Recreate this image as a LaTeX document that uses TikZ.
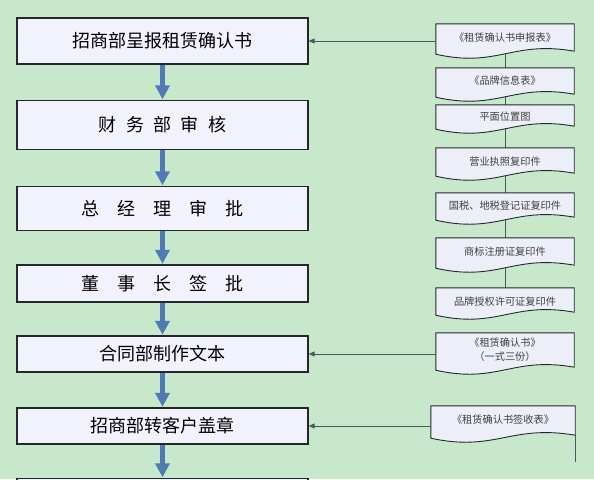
\documentclass[tikz,border=0pt]{standalone}
\usepackage{fontspec}
\setmainfont{Noto Sans CJK SC}
\usetikzlibrary{arrows.meta}
\definecolor{bggreen}{RGB}{200,232,204}
\definecolor{boxfill}{RGB}{242,242,252}
\definecolor{docfill}{RGB}{236,239,248}
\definecolor{edge}{RGB}{36,40,44}
\definecolor{conn}{RGB}{70,92,92}
\definecolor{flowblue}{RGB}{79,122,180}
\definecolor{doctext}{RGB}{64,64,64}
\newcommand\docoutline[1]{%
  \filldraw[docline] (#1.south west) -- (#1.north west) -- (#1.north east) -- ([yshift=3pt]#1.south east)
    .. controls +(-0.45*\pgfkeysvalueof{/tikz/docw},11) and +(0.45*\pgfkeysvalueof{/tikz/docw},-14) .. (#1.south west) -- cycle;}
\tikzset{
  docw/.initial=138,
  stepbox/.style={draw=edge, line width=1.2pt, fill=boxfill, minimum width=291pt, inner sep=0pt, font=\fontsize{18pt}{20pt}\selectfont},
  docnode/.style={draw=none, inner sep=0pt, minimum width=138pt, text=doctext, font=\fontsize{10.2pt}{13.5pt}\selectfont, align=center},
  docline/.style={draw=edge, line width=0.9pt, fill=docfill},
  connline/.style={draw=conn, line width=0.8pt},
  connarrow/.style={connline, -{Triangle[width=5pt,length=6pt]}},
  flowarrow/.style={draw=flowblue, line width=5pt, -{Triangle[width=14pt,length=14pt]}, shorten >=0.6pt},
}
\newcommand\gapsp[1]{\hspace{#1}}
\begin{document}
\begin{tikzpicture}[x=1pt,y=1pt]
\useasboundingbox (0,0) rectangle (594,-479);
\fill[bggreen] (0,0) rectangle (594,-479);

% document nodes (positions only, outlines drawn below)
\node[docnode, minimum height=30pt] (d1) at (505,-39) {};
\node[docnode, minimum height=29pt] (d2) at (505,-82.5) {};
\node[docnode, minimum height=24pt] (d3) at (505,-117) {};
\node[docnode, minimum height=28pt] (d4) at (505,-162) {};
\node[docnode, minimum height=27pt] (d5) at (505,-206.5) {};
\node[docnode, minimum height=30pt] (d6) at (505,-253) {};
\node[docnode, minimum height=27pt] (d7) at (505,-301.5) {};
\node[docnode, minimum height=37pt] (d8) at (505,-351.5) {};
\node[docnode, minimum height=32pt, minimum width=144pt] (d9) at (503,-422) {};

% vertical connector behind the documents
\draw[connline] (d1.south) -- (d7.north);

\docoutline{d1}\docoutline{d2}\docoutline{d3}\docoutline{d4}\docoutline{d5}\docoutline{d6}\docoutline{d7}\docoutline{d8}
\begin{scope}[docw=144]\docoutline{d9}\end{scope}
\coordinate (d9end) at ([yshift=-24pt]d9.south east);
\draw[connline] ([yshift=3pt]d9.south east) -- (d9end);

% document texts
\node[docnode] at ([yshift=1.5pt]d1.center) {《租赁确认书申报表》};
\node[docnode] at ([yshift=2pt]d2.center) {《品牌信息表》};
\node[docnode] at ([yshift=0pt]d3.center) {平面位置图};
\node[docnode] at (d4.center) {营业执照复印件};
\node[docnode] at ([yshift=1pt]d5.center) {国税、地税登记证复印件};
\node[docnode] at ([yshift=1pt]d6.center) {商标注册证复印件};
\node[docnode] at ([yshift=0pt]d7.center) {品牌授权许可证复印件};
\node[docnode] at ([yshift=2pt]d8.center) {《租赁确认书》\\（一式三份）};
\node[docnode] at ([yshift=2pt]d9.center) {《租赁确认书签收表》};

% process boxes
\node[stepbox, minimum height=46pt] (b1) at (162.5,-41) {招商部呈报租赁确认书};
\node[stepbox, minimum height=49pt] (b2) at (162.5,-125) {财\gapsp{0.52em}务\gapsp{0.52em}部\gapsp{0.52em}审\gapsp{0.52em}核};
\node[stepbox, minimum height=44pt] (b3) at (162.5,-208.5) {总\gapsp{1em}经\gapsp{1em}理\gapsp{1em}审\gapsp{1em}批};
\node[stepbox, minimum height=37pt] (b4) at (162.5,-283.5) {董\gapsp{1em}事\gapsp{1em}长\gapsp{1em}签\gapsp{1em}批};
\node[stepbox, minimum height=36pt] (b5) at (162.5,-354) {合同部制作文本};
\node[stepbox, minimum height=36pt] (b6) at (162.5,-426) {招商部转客户盖章};
\node[stepbox, minimum height=36pt] (b7) at (162.5,-496.5) {};

% flow arrows
\draw[flowarrow] (b1.south) -- (b2.north);
\draw[flowarrow] (b2.south) -- (b3.north);
\draw[flowarrow] (b3.south) -- (b4.north);
\draw[flowarrow] (b4.south) -- (b5.north);
\draw[flowarrow] (b5.south) -- (b6.north);
\draw[flowarrow] (b6.south) -- (b7.north);

% document inputs
\draw[connarrow] (b1.east -| d1.west) -- (b1.east);
\draw[connarrow] (b5.east -| d8.west) -- (b5.east);
\draw[connarrow] (b6.east -| d9.west) -- (b6.east);
\end{tikzpicture}
\end{document}
